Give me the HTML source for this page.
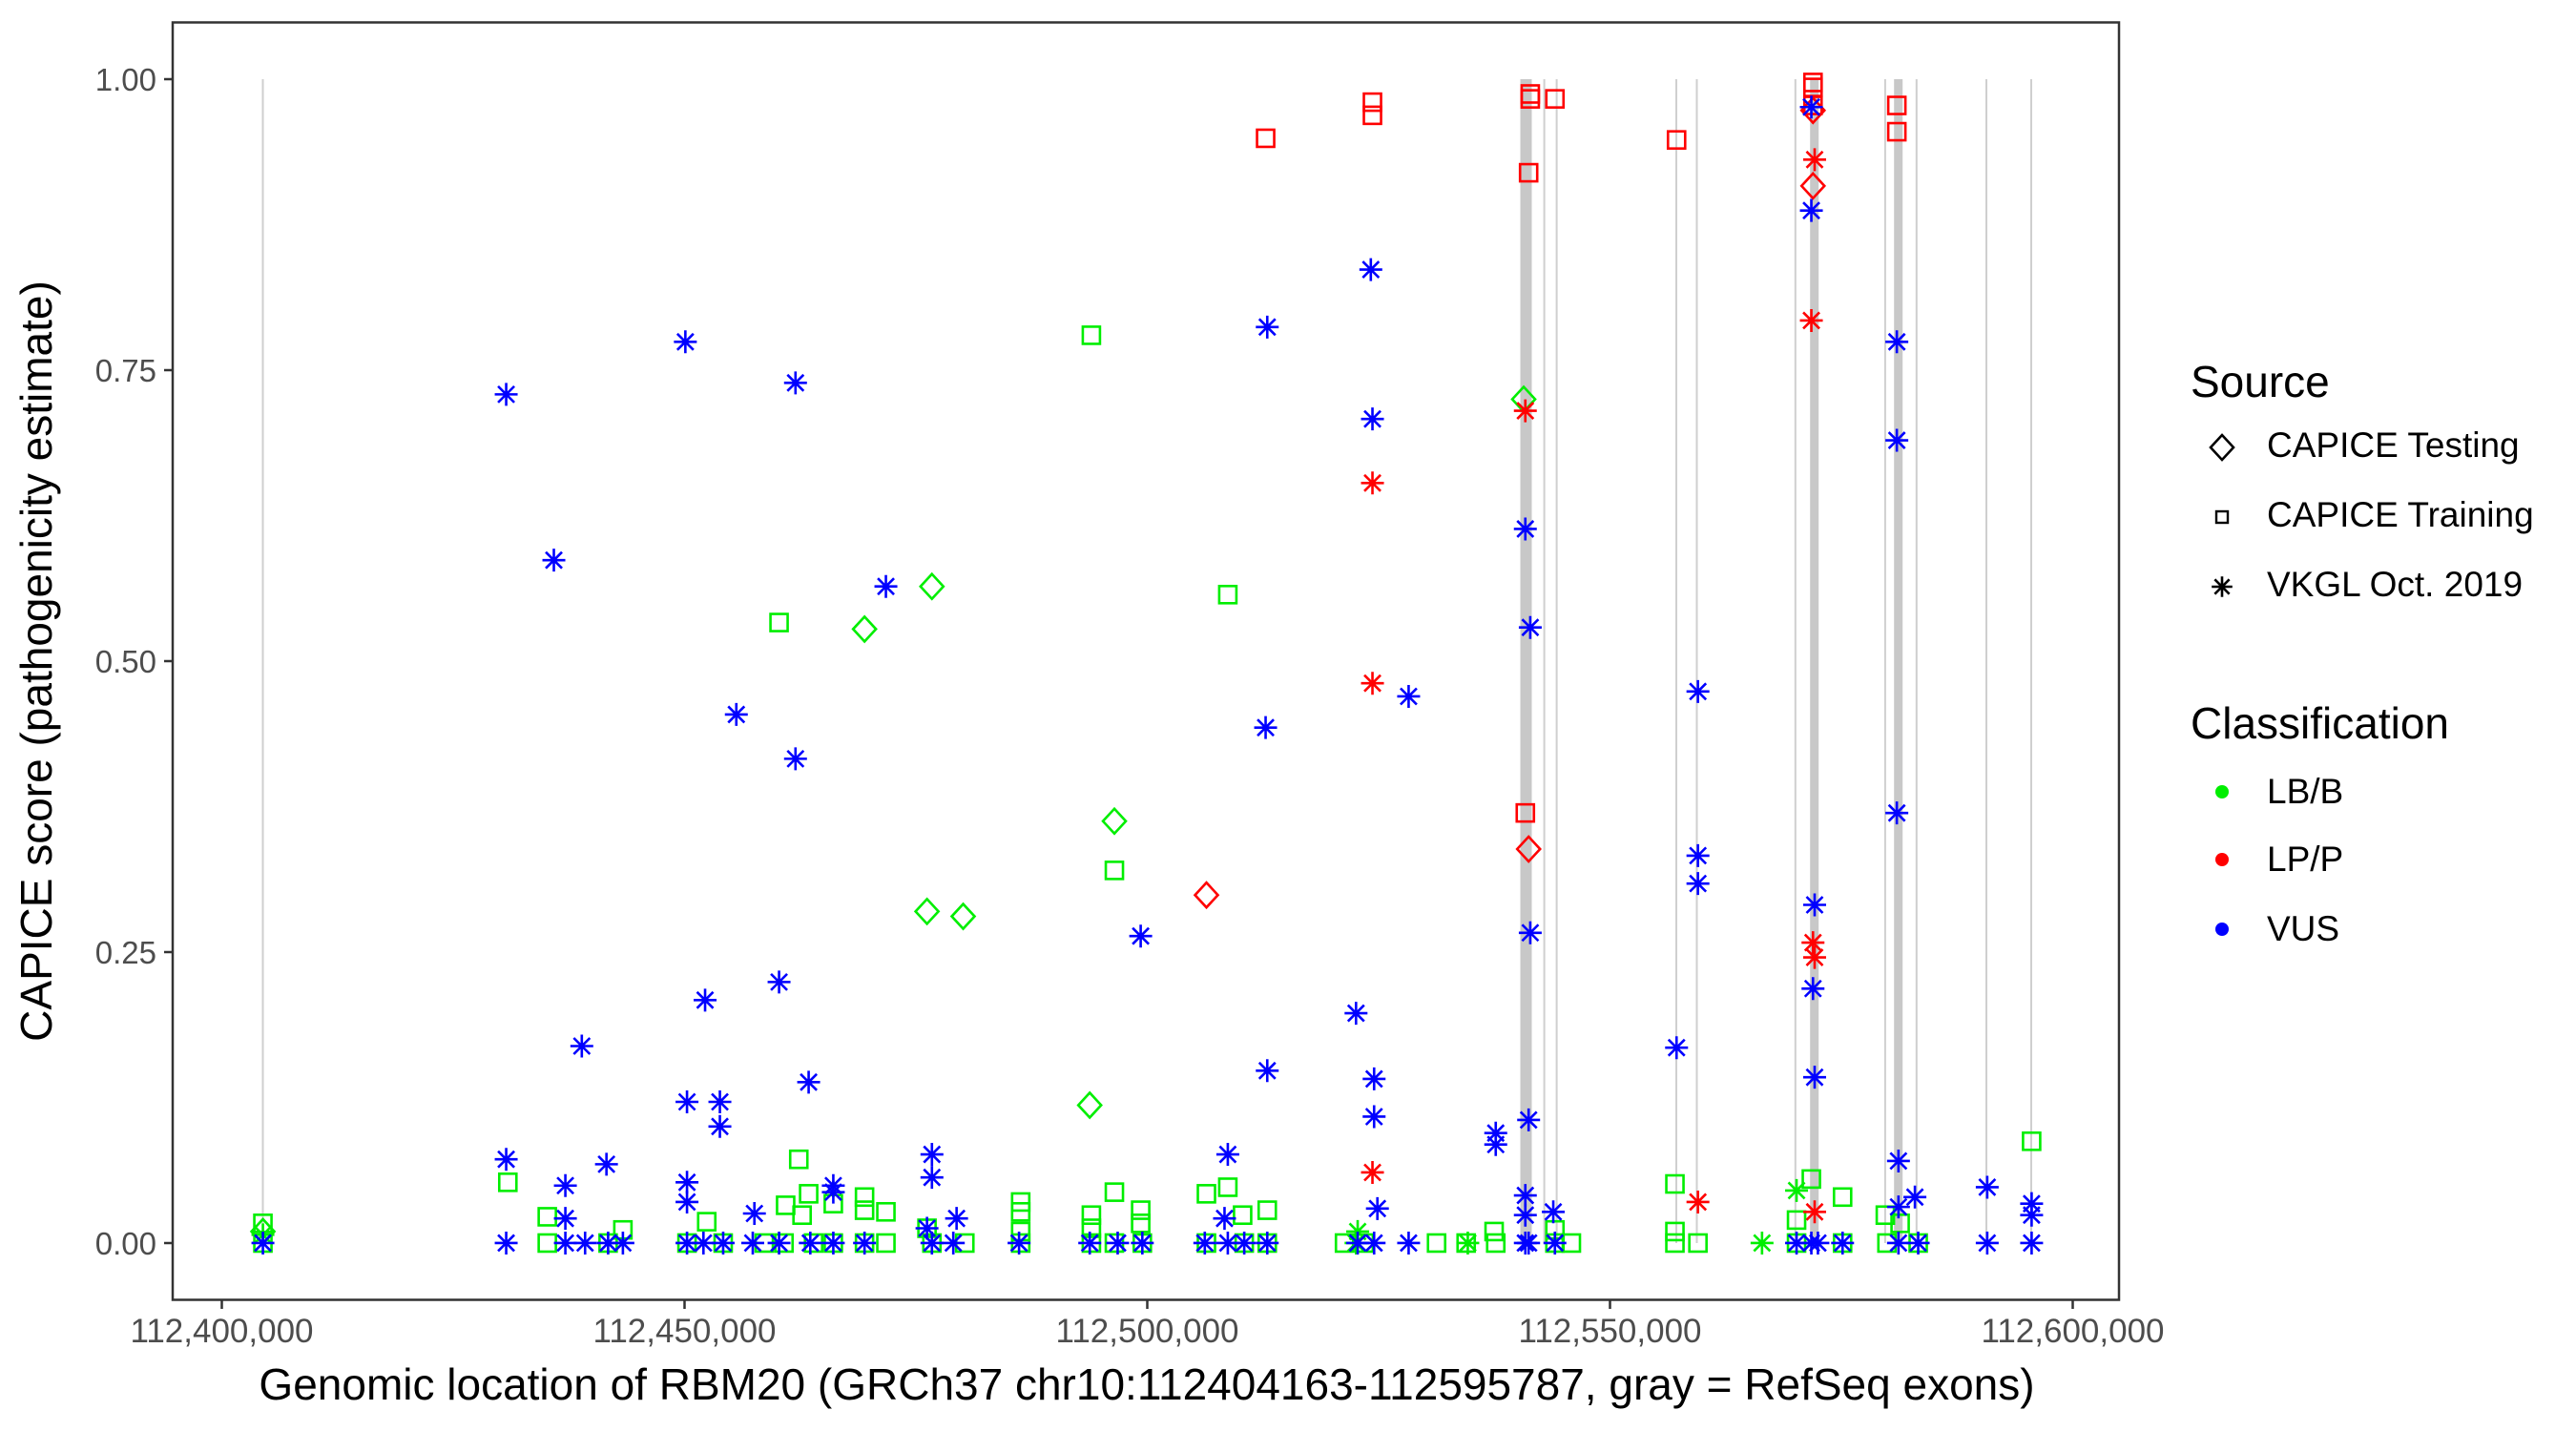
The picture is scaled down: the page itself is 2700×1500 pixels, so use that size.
<!DOCTYPE html>
<html><head><meta charset="utf-8">
<style>
html,body{margin:0;padding:0;background:#fff;}
svg{display:block;font-family:"Liberation Sans",Arial,sans-serif;}
</style></head>
<body>
<svg id="s" width="2700" height="1500" viewBox="0 0 2700 1500" xmlns="http://www.w3.org/2000/svg">
<rect width="2700" height="1500" fill="#fff"/>
<g id="exons"></g>
<g id="pts"></g>
<rect x="181" y="23.5" width="2040" height="1339" fill="none" stroke="#333" stroke-width="2.5"/>
<g stroke="#333" stroke-width="2.5">
<line x1="172" y1="83" x2="181" y2="83"/><line x1="172" y1="388" x2="181" y2="388"/><line x1="172" y1="693" x2="181" y2="693"/><line x1="172" y1="998" x2="181" y2="998"/><line x1="172" y1="1303" x2="181" y2="1303"/>
<line x1="232.5" y1="1363" x2="232.5" y2="1372"/><line x1="717.5" y1="1363" x2="717.5" y2="1372"/><line x1="1202.5" y1="1363" x2="1202.5" y2="1372"/><line x1="1687.5" y1="1363" x2="1687.5" y2="1372"/><line x1="2172.5" y1="1363" x2="2172.5" y2="1372"/>
</g>
<g fill="#4d4d4d" font-size="33" text-anchor="end">
<text x="164" y="95">1.00</text><text x="164" y="400">0.75</text><text x="164" y="705">0.50</text><text x="164" y="1010">0.25</text><text x="164" y="1315">0.00</text>
</g>
<g fill="#4d4d4d" font-size="35" text-anchor="middle">
<text x="232.5" y="1407">112,400,000</text><text x="717.5" y="1407">112,450,000</text><text x="1202.5" y="1407">112,500,000</text><text x="1687.5" y="1407">112,550,000</text><text x="2172.5" y="1407">112,600,000</text>
</g>
<text x="1202" y="1467" font-size="46" text-anchor="middle" fill="#000">Genomic location of RBM20 (GRCh37 chr10:112404163-112595787, gray = RefSeq exons)</text>
<text transform="translate(54,693) rotate(-90)" font-size="46" text-anchor="middle" fill="#000">CAPICE score (pathogenicity estimate)</text>
<g font-size="46" fill="#000"><text x="2296" y="416">Source</text><text x="2296" y="774">Classification</text></g>
<g font-size="37" fill="#000">
<text x="2376" y="479">CAPICE Testing</text><text x="2376" y="552">CAPICE Training</text><text x="2376" y="625">VKGL Oct. 2019</text>
<text x="2376" y="842">LB/B</text><text x="2376" y="913">LP/P</text><text x="2376" y="986">VUS</text>
</g>
<g id="leg"></g>
</svg>
<script>
var NS="http://www.w3.org/2000/svg";
function el(p,t,a){var e=document.createElementNS(NS,t);for(var k in a)e.setAttribute(k,a[k]);p.appendChild(e);return e;}
var ex=document.getElementById('exons');
var thin=[275.5,1618.6,1631.6,1757,1778.5,1881.8,1975.9,2008.8,2082,2129];
thin.forEach(function(x){el(ex,'line',{x1:x,x2:x,y1:83,y2:1303,stroke:'#cfcfcf','stroke-width':2});});
[[1599.5,12],[1901.7,9],[1989.7,9]].forEach(function(a){el(ex,'rect',{x:a[0]-a[1]/2,y:83,width:a[1],height:1220,fill:'#c8c8c8'});});
function star(g,x,y,c,s){s=s||1;var h=12*s,d=8.5*s;
 el(g,'path',{d:'M'+x+' '+(y-h)+'V'+(y+h)+'M'+(x-h)+' '+y+'H'+(x+h)+'M'+(x-d)+' '+(y-d)+'L'+(x+d)+' '+(y+d)+'M'+(x-d)+' '+(y+d)+'L'+(x+d)+' '+(y-d),stroke:c,'stroke-width':2.6,fill:'none'});}
function sq(g,x,y,c){el(g,'rect',{x:x-9,y:y-9,width:18,height:18,stroke:c,'stroke-width':2.6,fill:'none'});}
function dm(g,x,y,c){el(g,'path',{d:'M'+x+' '+(y-13)+'L'+(x+12)+' '+y+'L'+x+' '+(y+13)+'L'+(x-12)+' '+y+'Z',stroke:c,'stroke-width':2.6,fill:'none'});}
var g=document.getElementById('pts');
function X(x){return 232.5+(x-135)*1.7229;}
function Y(y){return 83+(y-48)*1.7207;}
function P(list,f,c){list.forEach(function(p){f(g,X(p[0]),Y(p[1]),c);});}
function row(xs){return xs.map(function(x){return [x,757];});}
var G='#00ee00',R='#ff0000',B='#0000ff';
P(row([160,333,370,418,440,465,477,495,507,526,539,567,587,621,664,678,695,734,757,771,818,830,874,892,910,946,956,1019,1033,1093,1121,1148,1167]),sq,G);
P([[664,204],[474,379],[747,362],[678,530],[486,706],[309,720],[333,741],[379,749],[621,732],[621,738],[664,740],[664,748],[678,726],[694,745],[694,737],[734,727],[747,723],[756,740],[771,737],[526,729],[526,737],[539,738],[507,733],[492,727],[478,734],[488,740],[430,744],[1019,721],[1019,750],[1236,695],[1102,718],[1093,743],[1121,729],[1147,740],[1156,745],[909,750],[946,749],[160,745],[564,748],[621,750]],sq,G);
P([[567,357],[526,383],[678,500],[564,555],[586,558],[663,673],[927,243],[160,750]],dm,G);
P([[1093,725],[826,750],[1072,757],[893,757],[825,757],[160,752]],star,G);
P([[835,62],[835,70],[770,84],[931,57],[931,60],[946,60],[930,105],[1020,85],[1103,50],[1103,53],[1103,64],[1154,64],[1154,80],[928,495]],sq,R);
P([[734,545],[930,517],[1103,113],[1103,67]],dm,R);
P([[1104,97],[1102,195],[928,250],[835,294],[835,416],[835,714],[1033,732],[1103,574],[1104,583],[1104,738]],star,R);
P([[308,240],[337,341],[417,208],[484,233],[448,435],[484,462],[539,357],[771,199],[834,164],[835,255],[770,443],[694,570],[857,424],[928,322],[931,382],[931,568],[1033,421],[1033,521],[1033,538],[1020,638],[1102,65],[1102,128],[1104,551],[1103,602],[1104,656],[1154,208],[1154,268],[1154,495],[1155,707],[1155,735],[1165,729],[1209,723],[1236,733],[1236,740],[474,598],[429,609],[354,637],[492,659],[825,617],[836,657],[836,680],[771,652],[747,703],[930,682],[910,690],[910,697],[308,706],[344,722],[369,709],[418,671],[438,671],[438,686],[418,720],[418,732],[567,703],[567,717],[564,748],[582,742],[344,742],[459,739],[507,722],[507,726],[838,736],[928,728],[928,740],[945,738],[745,742]],star,B);
P(row([160,308,344,356,370,379,418,428,440,458,474,493,507,526,567,580,620,663,680,695,733,747,757,771,826,836,857,928,930,946,1093,1102,1106,1121,1155,1167,1209,1236]),star,B);
var lg=document.getElementById('leg');
dm(lg,2329,469,'#000');
el(lg,'rect',{x:2323,y:536,width:12,height:12,stroke:'#000','stroke-width':2.4,fill:'none'});
star(lg,2329,615,'#000',0.9);
el(lg,'circle',{cx:2329,cy:830,r:7,fill:G});
el(lg,'circle',{cx:2329,cy:901,r:7,fill:R});
el(lg,'circle',{cx:2329,cy:974,r:7,fill:B});
</script>
</body></html>
